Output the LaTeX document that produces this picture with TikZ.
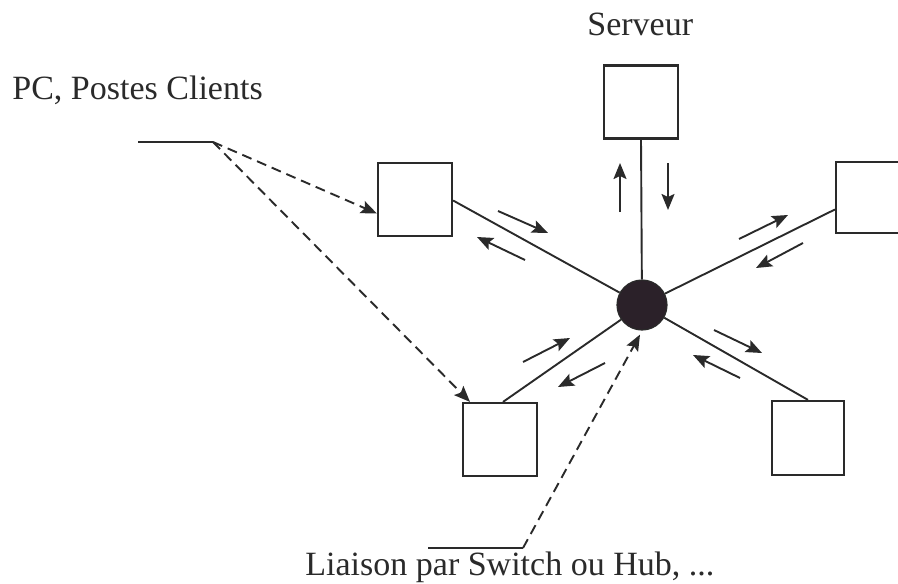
\documentclass[tikz,border=0pt]{standalone}
\usepackage{fontspec}
\setmainfont{Liberation Serif}
\usetikzlibrary{arrows.meta}
\definecolor{ink}{HTML}{2A2A2A}
\definecolor{hubfill}{HTML}{2B2129}
\begin{document}
\begin{tikzpicture}[x=0.5pt,y=-0.5pt,
  station/.style={draw=ink,line width=1.1pt,fill=white,inner sep=0pt,
    minimum width=37pt,minimum height=36.5pt},
  hubnode/.style={circle,draw=ink,fill=hubfill,inner sep=0pt,minimum size=25pt,line width=0.6pt},
  link/.style={draw=ink,line width=0.95pt},
  flow/.style={draw=ink,line width=0.95pt,-{Stealth[length=8pt,width=6.5pt,inset=1.5pt]}},
  pointer/.style={draw=ink,line width=0.95pt,dash pattern=on 5pt off 3pt,
    -{Stealth[length=8pt,width=6.5pt,inset=1.5pt]}},
  leader/.style={draw=ink,line width=0.95pt},
  caption/.style={text=ink,inner sep=0pt,font=\fontsize{17}{20}\selectfont}]
\useasboundingbox (0,0) rectangle (898,583);
\clip (0,0) rectangle (898,583);

% stations and the central switch
\node[station] (srv) at (641,102) {};
\node[station] (lu) at (415,199.5) {};
\node[station,minimum width=36.5pt,minimum height=35.5pt] (ru) at (872.5,197.5) {};
\node[station] (ll) at (500,439.5) {};
\node[station,minimum width=36pt,minimum height=37pt] (lr) at (808,438) {};
\node[hubnode] (hub) at (642,305) {};

% cabling from each station to the switch
\draw[link] (srv.south) -- (hub);
\draw[link] ([yshift=-0.5pt]lu.east) -- (hub);
\draw[link] ([yshift=-6pt]ru.west) -- (hub);
\draw[link] ([xshift=1.5pt]ll.north) -- (hub);
\draw[link] (lr.north) -- (hub);

% traffic directions along each cable
\draw[flow] (620,212) -- (620,163);
\draw[flow] (668,163) -- (668,210);
\draw[flow] (498,211) -- (548,233);
\draw[flow] (525,260) -- (477,237);
\draw[flow] (739,239) -- (788,215);
\draw[flow] (803,243) -- (756,268);
\draw[flow] (523,362) -- (570,338);
\draw[flow] (605,363) -- (558,387);
\draw[flow] (714,330) -- (762,353);
\draw[flow] (740,378) -- (693,355);

% labels
\node[caption,anchor=base west] (pclabel) at (12,99) {PC, Postes Clients};
\node[caption,anchor=base west] (srvlabel) at (587,36) {Serveur};
\node[caption,anchor=base west] (hublabel) at (305,575) {Liaison par Switch ou Hub, ...};

% leaders from the labels
\coordinate (pcA) at (138,142);
\coordinate (pcB) at (213,142);
\draw[leader] (pcA) -- (pcB);
\draw[pointer] (pcB) -- ([yshift=-7pt]lu.west);
\draw[pointer] (pcB) -- ([xshift=-15pt]ll.north);

\coordinate (lkA) at (428,548);
\coordinate (lkB) at (523,548);
\draw[leader] (lkA) -- (lkB);
\draw[pointer] (lkB) -- ([xshift=-1pt,yshift=-2pt]hub.south);
\end{tikzpicture}
\end{document}
